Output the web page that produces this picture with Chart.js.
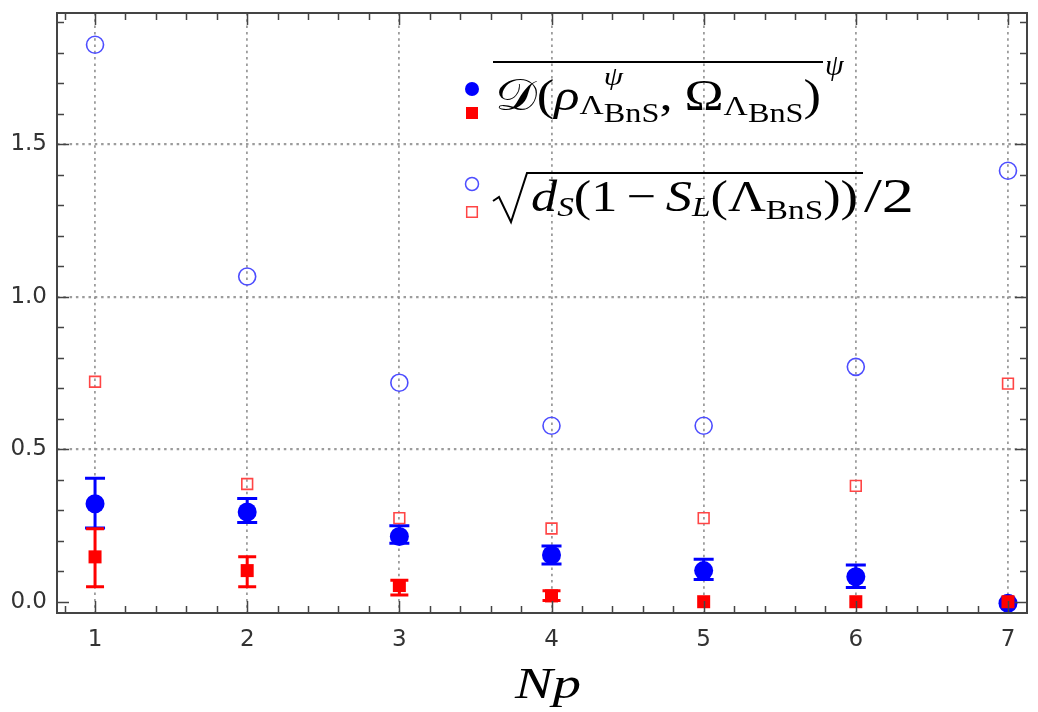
<!DOCTYPE html>
<html>
<head>
<meta charset="utf-8">
<script src="https://cdn.jsdelivr.net/npm/chart.js@4.4.1/dist/chart.umd.min.js"></script>
<style>
  html, body { margin: 0; background: #fff; }
  #wrap { position: relative; width: 1038px; height: 712px; }
</style>
</head>
<body>
<div id="wrap"><canvas id="chart"></canvas></div>
<script>
// datos
const npValues = [1, 2, 3, 4, 5, 6, 7];
const meanD     = [0.321, 0.294, 0.214, 0.153, 0.102, 0.082, -0.005];
const meanDLow  = [0.242, 0.260, 0.192, 0.124, 0.073, 0.047, null];
const meanDHigh = [0.405, 0.338, 0.249, 0.183, 0.139, 0.120, null];
const minD      = [0.147, 0.102, 0.053, 0.019, 0.000, 0.000, 0.000];
const minDLow   = [0.049, 0.049, 0.022, 0.004, null, null, null];
const minDHigh  = [0.239, 0.147, 0.070, 0.036, null, null, null];
const boundCircle = [1.826, 1.066, 0.718, 0.577, 0.577, 0.770, 1.413];
const boundSquare = [0.721, 0.386, 0.274, 0.240, 0.274, 0.380, 0.715];
const xTicks = [1, 2, 3, 4, 5, 6, 7];
const yTicks = [0, 0.5, 1.0, 1.5];

const SERIF = "'Liberation Serif','DejaVu Serif',serif";
const FRAME = '#444';

function pts(values) {
    return npValues.map((x, i) => ({ x: x, y: values[i] }));
}

// barras de error
const errorBars = {
    id: 'errorBars',
    beforeDatasetsDraw(chart) {
        const { ctx, scales: { x, y } } = chart;
        ctx.save();
        ctx.lineWidth = 3;
        [[meanDLow, meanDHigh, '#0000ff', 10], [minDLow, minDHigh, '#ff0000', 9]].forEach(([lo, hi, color, cap]) => {
            ctx.strokeStyle = color;
            npValues.forEach((v, i) => {
                if (lo[i] === null) return;
                const px = x.getPixelForValue(v);
                const y1 = y.getPixelForValue(lo[i]);
                const y2 = y.getPixelForValue(hi[i]);
                ctx.beginPath();
                ctx.moveTo(px, y1); ctx.lineTo(px, y2);
                ctx.moveTo(px - cap, y1); ctx.lineTo(px + cap, y1);
                ctx.moveTo(px - cap, y2); ctx.lineTo(px + cap, y2);
                ctx.stroke();
            });
        });
        ctx.restore();
    }
};

// marco con marcas hacia dentro
const frameTicks = {
    id: 'frameTicks',
    afterDraw(chart) {
        const { ctx, chartArea: a, scales: { x, y } } = chart;
        ctx.save();
        ctx.strokeStyle = FRAME;
        ctx.lineWidth = 2;
        ctx.strokeRect(a.left, a.top, a.right - a.left, a.bottom - a.top);
        ctx.lineWidth = 1.5;
        ctx.beginPath();
        for (let k = 4; k <= 35; k++) {
            const v = k / 5;
            if (v < x.min || v > x.max) continue;
            const len = (k % 5 === 0) ? 12 : 7;
            const px = Math.round(x.getPixelForValue(v)) + 0.5;
            ctx.moveTo(px, a.bottom); ctx.lineTo(px, a.bottom - len);
            ctx.moveTo(px, a.top); ctx.lineTo(px, a.top + len);
        }
        for (let k = 0; k <= 19; k++) {
            const v = k / 10;
            if (v < y.min || v > y.max) continue;
            const len = (k % 5 === 0) ? 12 : 7;
            const py = Math.round(y.getPixelForValue(v)) + 0.5;
            ctx.moveTo(a.left, py); ctx.lineTo(a.left + len, py);
            ctx.moveTo(a.right, py); ctx.lineTo(a.right - len, py);
        }
        ctx.stroke();
        ctx.restore();
    }
};

function setFont(ctx, p) {
    ctx.font = (p.i ? 'italic ' : '') + p.s + 'px ' + SERIF;
}

// escribe una formula por trozos, estirada para llenar "width"
function runText(ctx, x0, base, parts, width, fixedScale) {
    let natural = 0;
    parts.forEach(p => {
        setFont(ctx, p);
        if (!p.stay) natural += ctx.measureText(p.t).width + (p.gap || 0);
    });
    const sx = fixedScale || (width ? width / natural : 1);
    ctx.save();
    ctx.translate(x0, base);
    ctx.scale(sx, 1);
    let x = 0;
    parts.forEach(p => {
        setFont(ctx, p);
        ctx.fillText(p.t, x, p.dy || 0);
        if (!p.stay) x += ctx.measureText(p.t).width + (p.gap || 0);
    });
    ctx.restore();
    return { end: x0 + natural * sx, sx: sx };
}

// leyenda y titulo del eje
const legendText = {
    id: 'legendText',
    afterDraw(chart) {
        const { ctx } = chart;
        const h = Chart.helpers;
        ctx.save();
        // marcadores
        ctx.fillStyle = '#0000ff'; ctx.strokeStyle = '#0000ff';
        h.drawPoint(ctx, { pointStyle: 'circle', radius: 7, borderWidth: 0 }, 472, 89);
        ctx.fillStyle = '#ff0000'; ctx.strokeStyle = '#ff0000';
        h.drawPoint(ctx, { pointStyle: 'rect', radius: 8.5, borderWidth: 0 }, 472, 113);
        ctx.fillStyle = 'rgba(0,0,0,0)';
        ctx.lineWidth = 1.5;
        ctx.strokeStyle = '#4d4dff';
        h.drawPoint(ctx, { pointStyle: 'circle', radius: 6.5, borderWidth: 1.5 }, 472, 184);
        ctx.strokeStyle = '#ff4545';
        h.drawPoint(ctx, { pointStyle: 'rect', radius: 7.5, borderWidth: 1.5 }, 472, 212);

        ctx.fillStyle = '#000';
        ctx.strokeStyle = '#000';
        ctx.textBaseline = 'alphabetic';
        ctx.textAlign = 'left';
        // linea 1
        const l1 = runText(ctx, 495, 110, [
            { t: '𝒟', s: 44 },
            { t: '(', s: 44 },
            { t: 'ρ', s: 44, i: true },
            { t: 'Λ', s: 28, dy: 4 },
            { t: 'ψ', s: 26, i: true, dy: -25, gap: 1, stay: true },
            { t: 'BnS', s: 27, dy: 12 },
            { t: ',', s: 44, gap: 10 },
            { t: 'Ω', s: 44 },
            { t: 'Λ', s: 28, dy: 5 },
            { t: 'BnS', s: 27, dy: 12 },
            { t: ')', s: 44 }
        ], 326);
        ctx.lineWidth = 2;
        ctx.beginPath();
        ctx.moveTo(493, 62); ctx.lineTo(l1.end + 2, 62);
        ctx.stroke();
        ctx.font = 'italic 30px ' + SERIF;
        ctx.fillText('ψ', l1.end + 4, 75);

        // linea 2
        const start2 = 531;
        const l2 = runText(ctx, start2, 211, [
            { t: 'd', s: 44, i: true },
            { t: 'S', s: 28, i: true, dy: 5 },
            { t: '(', s: 44 },
            { t: '1', s: 44, gap: 8 },
            { t: '−', s: 44, gap: 8 },
            { t: 'S', s: 44, i: true },
            { t: 'L', s: 28, i: true, dy: 5 },
            { t: '(', s: 44 },
            { t: 'Λ', s: 44 },
            { t: 'BnS', s: 28, dy: 8 },
            { t: '))', s: 44 }
        ], 327);
        runText(ctx, l2.end + 6, 212, [{ t: '/2', s: 48 }], 50);
        ctx.lineWidth = 2;
        ctx.beginPath();
        ctx.moveTo(493, 201); ctx.lineTo(499, 197);
        ctx.lineTo(511, 222); ctx.lineTo(527, 173);
        ctx.lineTo(l2.end + 5, 173);
        ctx.stroke();

        // titulo del eje x
        runText(ctx, 515, 698, [
            { t: 'N', s: 44, i: true },
            { t: 'p', s: 44, i: true }
        ], 66);
        ctx.restore();
    }
};

const gridColor = c => (c.tick && c.tick.value === 0) ? 'rgba(0,0,0,0)' : 'rgba(145,145,145,0.9)';
const tickFont = { family: "'DejaVu Sans'", size: 23 };

new Chart(document.getElementById('chart'), {
    type: 'scatter',
    data: {
        datasets: [
            {
                label: 'min',
                data: pts(minD),
                pointStyle: 'rect',
                pointRadius: 9.2,
                backgroundColor: '#ff0000',
                borderColor: '#ff0000',
                borderWidth: 0,
                order: 1
            },
            {
                label: 'mean',
                data: pts(meanD),
                pointStyle: 'circle',
                pointRadius: 9.5,
                backgroundColor: '#0000ff',
                borderColor: '#0000ff',
                borderWidth: 0,
                order: 2
            },
            {
                label: 'bound circle',
                data: pts(boundCircle),
                pointStyle: 'circle',
                pointRadius: 8.5,
                backgroundColor: 'rgba(0,0,0,0)',
                borderColor: '#4d4dff',
                borderWidth: 1.6,
                order: 3
            },
            {
                label: 'bound square',
                data: pts(boundSquare),
                pointStyle: 'rect',
                pointRadius: 7.6,
                backgroundColor: 'rgba(0,0,0,0)',
                borderColor: '#ff4545',
                borderWidth: 1.6,
                order: 4
            }
        ]
    },
    options: {
        responsive: true,
        maintainAspectRatio: false,
        animation: false,
        layout: { padding: { top: 13, right: 11, left: 0, bottom: 0 } },
        plugins: {
            legend: { display: false },
            tooltip: { enabled: false }
        },
        scales: {
            x: {
                type: 'linear',
                min: 0.75,
                max: 7.125,
                afterFit: s => { s.height = 99; s.paddingLeft = 0; s.paddingRight = 0; },
                afterBuildTicks: s => { s.ticks = xTicks.map(v => ({ value: v })); },
                ticks: { padding: 13, color: '#333', font: tickFont, maxRotation: 0 },
                grid: { drawTicks: false, color: gridColor, lineWidth: 1.8 },
                border: { display: false, dash: [2.5, 3.8] }
            },
            y: {
                type: 'linear',
                min: -0.037,
                max: 1.93,
                afterFit: s => { s.width = 57; s.paddingTop = 0; s.paddingBottom = 0; },
                afterBuildTicks: s => { s.ticks = yTicks.map(v => ({ value: v })); },
                ticks: { padding: 10, color: '#333', font: tickFont, callback: v => v.toFixed(1) },
                grid: { drawTicks: false, color: gridColor, lineWidth: 2.2 },
                border: { display: false, dash: [2.5, 3.8] }
            }
        }
    },
    plugins: [errorBars, frameTicks, legendText]
});
</script>
</body>
</html>
